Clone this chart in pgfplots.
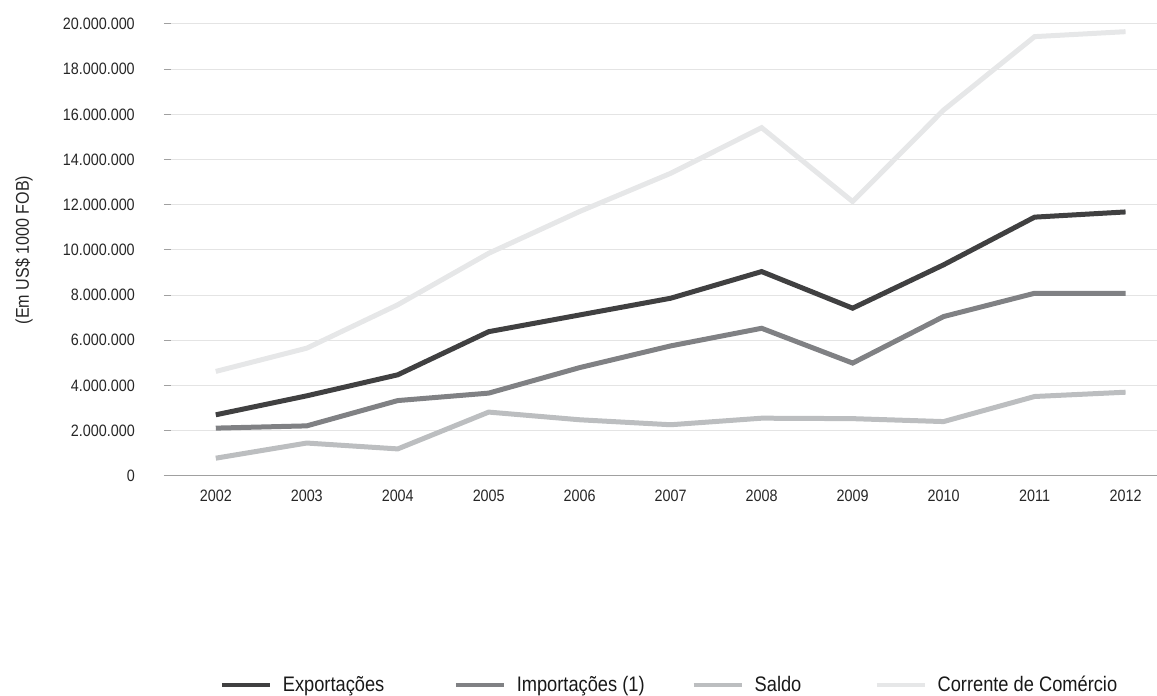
\documentclass[border=0pt]{standalone}
\usepackage{pgfplots}
\pgfplotsset{compat=1.18}
\usepackage{fontspec}
\setmainfont{Liberation Sans}[FakeStretch=0.87]
\definecolor{cExp}{HTML}{404041}
\definecolor{cImp}{HTML}{808184}
\definecolor{cSal}{HTML}{BCBEC0}
\definecolor{cCor}{HTML}{E6E7E8}
\definecolor{cGrid}{HTML}{E4E4E4}
\definecolor{cTick}{HTML}{A0A0A0}
\begin{document}
\begin{tikzpicture}
\begin{axis}[
  scale only axis, width=993bp, height=452bp,
  xmin=2001.43, xmax=2012.34, ymin=0, ymax=20000000,
  clip=false,
  axis x line*=bottom, axis y line*=left,
  x axis line style={draw=cTick, line width=1bp, -},
  y axis line style={draw=none},
  xtick={2002,2003,2004,2005,2006,2007,2008,2009,2010,2011,2012},
  xticklabels={2002,2003,2004,2005,2006,2007,2008,2009,2010,2011,2012},
  ytick={0,2000000,4000000,6000000,8000000,10000000,12000000,14000000,16000000,18000000,20000000},
  yticklabels={0,2.000.000,4.000.000,6.000.000,8.000.000,10.000.000,12.000.000,14.000.000,16.000.000,18.000.000,20.000.000},
  scaled y ticks=false,
  xtick style={draw=none},
  ytick style={draw=cTick, line width=1bp},
  tick align=inside, major tick length=7bp,
  ymajorgrids, major grid style={draw=cGrid, line width=1bp},
  ticklabel style={font=\fontsize{16.5bp}{19bp}\selectfont, text=black!85},
  yticklabel style={anchor=east, inner sep=0pt, xshift=-29bp},
  xticklabel style={anchor=north, inner sep=0pt, yshift=-14bp},
  ylabel={(Em US\$ 1000 FOB)},
  ylabel style={at={(axis description cs:-0.141,0.5)}, anchor=center, font=\fontsize{18.5bp}{21bp}\selectfont, text=black!85},
  every axis plot/.append style={line width=5bp, line join=miter},
]
\addplot[cCor] coordinates {(2002,4620000) (2003,5650000) (2004,7570000) (2005,9850000) (2006,11700000) (2007,13390000) (2008,15410000) (2009,12140000) (2010,16190000) (2011,19440000) (2012,19660000)};
\addplot[cSal] coordinates {(2002,780000) (2003,1450000) (2004,1190000) (2005,2820000) (2006,2480000) (2007,2260000) (2008,2550000) (2009,2530000) (2010,2400000) (2011,3510000) (2012,3700000)};
\addplot[cImp] coordinates {(2002,2110000) (2003,2210000) (2004,3330000) (2005,3660000) (2006,4790000) (2007,5750000) (2008,6530000) (2009,4990000) (2010,7050000) (2011,8080000) (2012,8080000)};
\addplot[cExp] coordinates {(2002,2700000) (2003,3540000) (2004,4470000) (2005,6380000) (2006,7120000) (2007,7860000) (2008,9040000) (2009,7420000) (2010,9340000) (2011,11450000) (2012,11680000)};
\end{axis}
\begin{axis}[
  scale only axis, width=993bp, height=452bp,
  xmin=2001.43, xmax=2012.34, ymin=0, ymax=20000000,
  hide axis,
  legend columns=4,
  legend image code/.code={\draw[#1, line width=4bp] (0bp,0bp) -- (48bp,0bp);},
  legend style={draw=none, fill=none, inner sep=0pt, outer sep=0pt,
    at={(axis description cs:0.0564,-0.4624)}, anchor=west,
    column sep=0pt, nodes={inner sep=0pt, anchor=west},
    font=\fontsize{21bp}{24bp}\selectfont, text=black!90},
]
\addlegendimage{cExp}
\addlegendentry{\hspace{11bp}\makebox[171bp][l]{Exportações}}
\addlegendimage{cImp}
\addlegendentry{\hspace{11bp}\makebox[175bp][l]{Importações (1)}}
\addlegendimage{cSal}
\addlegendentry{\hspace{11bp}\makebox[120bp][l]{Saldo}}
\addlegendimage{cCor}
\addlegendentry{\hspace{11bp}Corrente de Comércio}
\end{axis}
\useasboundingbox (current axis.south west) ++(-164bp,-220bp) rectangle ++(1157bp,696bp);
\end{tikzpicture}
\end{document}
